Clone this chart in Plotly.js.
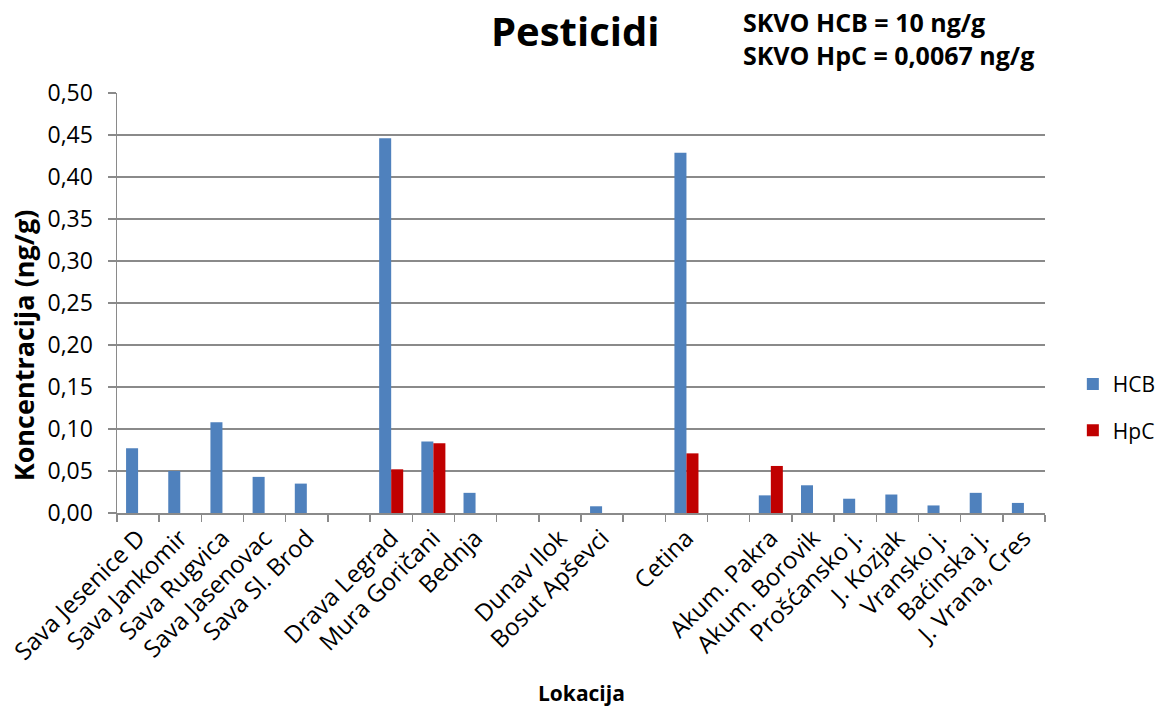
<!DOCTYPE html>
<html>
<head>
<meta charset="utf-8">
<script src="https://cdn.plot.ly/plotly-3.0.1.min.js"></script>
<style>html,body{margin:0;padding:0;background:#fff;}#chart{width:1155px;height:710px;}</style>
</head>
<body>
<div id="chart"></div>
<script>
const categories = ["Sava Jesenice D","Sava Jankomir","Sava Rugvica","Sava Jasenovac","Sava Sl. Brod"," ","Drava Legrad","Mura Goričani","Bednja","  ","Dunav Ilok","Bosut Apševci","   ","Cetina","    ","Akum. Pakra","Akum. Borovik","Prošćansko j.","J. Kozjak","Vransko j.","Baćinska j.","J. Vrana, Cres"];
const hcbValues = [0.077,0.050,0.108,0.043,0.035,null,0.446,0.085,0.024,null,null,0.008,null,0.429,null,0.021,0.033,0.017,0.022,0.009,0.024,0.012];
const hpcValues = [null,null,null,null,null,null,0.052,0.083,null,null,null,null,null,0.071,null,0.056,null,null,null,null,null,null];
const seriesNames = ["HCB","HpC"];
const titleText = "Pesticidi";
const noteLines = ["SKVO HCB = 10 ng/g","SKVO HpC = 0,0067 ng/g"];
const xTitle = "Lokacija";
const yTitle = "Koncentracija (ng/g)";

const FONT = "Open Sans, sans-serif";
const GRID = "#8a8a8a";

const traces = [
  {type:"bar", name:seriesNames[0], x:categories, y:hcbValues, marker:{color:"#4F81BD"}, legendgroup:"a"},
  {type:"bar", name:seriesNames[1], x:categories, y:hpcValues, marker:{color:"#C00000"}, legendgroup:"b"}
];

const layout = {
  width:1155, height:710,
  paper_bgcolor:"#fff", plot_bgcolor:"#fff",
  separators:", ",
  font:{family:FONT, color:"#000", size:21},
  margin:{l:117, r:110, t:93, b:197, autoexpand:false},
  barmode:"group", bargap:0.43, bargroupgap:0,
  title:{text:"<b>"+titleText+"</b>", font:{family:FONT, size:40, color:"#000"}, x:0.498, xref:"container", xanchor:"center", y:0.955, yref:"container", yanchor:"middle"},
  xaxis:{type:"category", categoryorder:"array", categoryarray:categories,
    showline:true, linecolor:GRID, linewidth:1.5, showgrid:false,
    ticks:"outside", tickson:"boundaries", ticklen:7, tickcolor:GRID, tickwidth:1.5,
    tickangle:-45, tickfont:{family:FONT, size:24, color:"#000"}, automargin:false},
  yaxis:{range:[0,0.5], dtick:0.05, tick0:0, tickformat:".2f",
    showline:true, linecolor:GRID, linewidth:1.5,
    showgrid:true, gridcolor:GRID, gridwidth:1.5, zeroline:false,
    ticks:"outside", ticklen:8, tickcolor:GRID, tickwidth:1.5, ticklabelstandoff:10,
    tickfont:{family:FONT, size:23, color:"#000"}, automargin:false},
  legend:{x:1.030, xanchor:"left", y:0.355, yanchor:"top", font:{family:FONT, size:21, color:"#000"}, tracegroupgap:16, traceorder:"grouped", bgcolor:"rgba(0,0,0,0)"},
  annotations:[
    {xref:"paper", yref:"paper", x:0.672, y:1.129, xanchor:"left", yanchor:"middle", align:"left", showarrow:false,
     text:"<b>"+noteLines.join("<br>")+"</b>", font:{family:FONT, size:25, color:"#000"}},
    {xref:"paper", yref:"paper", x:-0.101, y:0.40, xanchor:"center", yanchor:"middle", textangle:-90, showarrow:false,
     text:"<b>"+yTitle+"</b>", font:{family:FONT, size:27, color:"#000"}},
    {xref:"paper", yref:"paper", x:0.5, y:-0.428, xanchor:"center", yanchor:"middle", showarrow:false,
     text:"<b>"+xTitle+"</b>", font:{family:FONT, size:21, color:"#000"}}
  ],
  showlegend:true
};

Plotly.newPlot("chart", traces, layout, {staticPlot:true, displayModeBar:false});
</script>
</body>
</html>
